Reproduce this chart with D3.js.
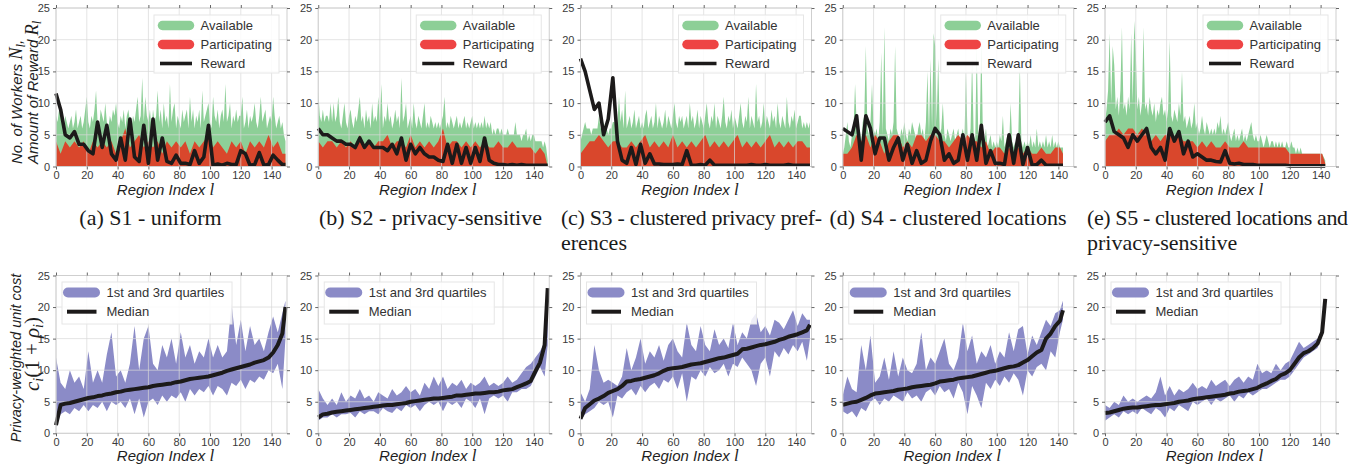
<!DOCTYPE html>
<html>
<head>
<meta charset="utf-8">
<script src="https://cdn.jsdelivr.net/npm/d3@7"></script>
<style>
body{margin:0;background:#fff;}
svg text{font-family:"Liberation Sans",Arial,Helvetica,sans-serif;}
</style>
</head>
<body>
<svg id="chart" width="1367" height="468"></svg>
<script>
var regionIdx150 = [0,3,6,9,12,15,18,21,24,27,30,33,36,39,42,45,48,51,54,57,60,63,66,69,72,75,78,81,84,87,90,93,96,99,102,105,108,111,114,117,120,123,126,129,132,135,138,141,144,147,149];
var regionIdx144 = [0,3,6,9,12,15,18,21,24,27,30,33,36,39,42,45,48,51,54,57,60,63,66,69,72,75,78,81,84,87,90,93,96,99,102,105,108,111,114,117,120,123,126,129,132,135,138,141,143];
//every region, used where the spikes are too narrow for the coarse grid
var regionAll150 = d3.range(0,150);
var regionAll144 = d3.range(0,144);

var xTicks = [0,20,40,60,80,100,120,140];
var yTicks = [0,5,10,15,20,25];

var captions = ["(a) S1 - uniform","(b) S2 - privacy-sensitive","(c) S3 - clustered privacy pref-|erences","(d) S4 - clustered locations","(e) S5 - clustered locations and|privacy-sensitive"];

//top row: available workers (every region), participating workers, reward
var availA = [8,7,9,8,7,6,8,7,6,7, 8,6,7,9,6,7,8,6,7,9, 11,7,6,8,7,9,12,7,6,9, 8,7,10,7,6,8,7,9,8,10,
	7,6,8,7,9,6,8,9,7,6, 8,7,9,11,7,8,14,7,11,8, 7,9,6,9,7,8,12,7,9,6, 10,7,8,6,13,7,9,10,6,8,
	7,6,9,7,8,9,6,11,7,9, 6,8,7,9,6,12,7,8,9,10, 7,6,11,8,7,9,6,8,9,7, 13,7,8,10,6,8,7,9,7,8,
	8,11,6,7,9,6,8,7,8,10, 7,6,8,11,7,8,9,6,7,8, 7,11,8,6,7,8,6,7,5,4];
var partA = [4,2,4,3,4,3,4,2,4,3,4,3,4,2,4,6,3,4,5,3,4,3,4,2,4,3,4,3,4,2,4,3,4,5,3,4,3,2,4,3,4,2,4,3,4,3,5,3,4,2,2];
var rewardA = [11.5,9,5,4.5,5.5,3.5,3.5,2.5,2,7,3,6.5,2,1,4.5,1,7.5,1.5,0.8,6.5,0.5,7.5,1,4.5,0.8,0.5,1.8,0.5,0.5,0.3,2.5,0.5,1.5,6.5,0.2,0.4,0.2,0.5,0.3,0.3,2.5,2,0.2,0.3,2.2,0.2,0.3,1.8,1,0.3,0.3];

var availB = [12,8,7,9,7,8,8,7,10,7, 10,7,8,11,7,6,8,10,7,6, 8,9,7,6,8,7,9,11,7,8, 6,9,7,8,6,10,7,8,7,11,
	7,13,6,8,7,10,7,8,6,7, 9,7,8,6,14,7,8,10,6,7, 8,6,10,7,6,8,7,6,8,10, 6,7,6,8,7,6,7,6,7,6,
	7,8,11,6,7,6,8,7,6,7, 8,6,7,6,7,8,6,7,6,7, 8,6,7,6,7,6,7,6,8,6, 7,6,7,5,6,5,6,6,5,6,
	5,5,5,6,5,5,5,5,7,5, 5,5,4,5,5,6,4,5,4,5, 5,4,4,4,4,4,3,4,3,1];
var partB = [4,3,4,4,3,4,3,4,3,5,3,4,3,4,4,5,3,4,4,3,5,3,4,3,4,3,4,6,3,4,4,3,4,3,4,3,4,3,3,4,3,3,4,3,3,3,3,2,3,2,0];
var rewardB = [6,5,5,4.5,4,4,3.5,3.5,3,4.5,3,4,3,3,3,2.5,3.5,2,4.5,1,3.5,2,3,2,1.5,1.5,1,0.8,3.5,0.5,3.5,0.5,3,0.5,3,0.8,4.5,1,0.5,0.3,0.3,0.2,0.3,0.2,0.3,0.2,0.2,0.2,0.2,0.2,0.2];

var availC = [4,5,6,7,6,6,6,5,6,6, 6,6,8,6,6,7,6,6,5,6, 6,7,7,6,7,11,7,9,6,12, 6,7,8,6,7,9,6,7,8,6,
	7,6,8,9,6,7,8,6,7,10, 6,8,7,6,7,9,6,8,7,6, 8,10,7,6,8,7,8,6,7,8, 6,10,7,8,6,7,9,6,8,7,
	6,8,10,7,6,8,7,10,6,8, 7,6,8,11,7,6,8,7,9,6, 8,7,6,8,10,7,6,8,7,11, 6,8,7,6,13,7,8,6,7,10,
	6,8,7,6,9,7,8,6,10,7, 6,8,7,6,11,7,6,8,7,9, 6,7,8,8,6,7,6,7,6,7];
var partC = [2,3,4,4,5,4,3,4,4,3,3,4,3,4,5,3,4,3,4,3,5,3,4,3,4,3,4,5,3,4,3,4,3,4,5,3,4,3,4,3,4,5,3,4,3,4,3,4,4,3,3];
var rewardC = [17,15,12,9,10,5,7.5,14,4,1,0.5,3,0.3,3.5,0.5,2,0.4,0.4,0.3,0.3,0.3,0.4,0.3,2.5,0.2,0.2,0.3,0.2,1,0.2,0.2,0.2,0.2,0.2,0.2,0.2,0.2,0.3,0.2,0.2,0.3,0.2,0.2,0.2,0.2,0.3,0.2,0.2,0.2,0.2,0.2];

var availD = [2,3,5,7,4,3,5,6,13,7,5,6,4,7,8,19,6,5,7,13,6,5,6,4,7,18,5,22,6,5,
	4,6,5,7,19,6,5,4,6,5,7,5,4,6,5,7,6,5,4,6,
	7,5,6,4,7,15,5,17,6,21,19,7,17,5,6,10,5,4,6,5,
	4,5,6,4,5,6,4,5,6,4,15,5,4,6,17,5,4,19,5,6,
	20,5,4,6,3,4,5,3,4,3,4,3,5,4,8,3,4,5,3,10,
	4,3,4,3,5,16,4,3,4,3,4,3,5,3,4,3,6,3,4,3,
	4,3,5,3,4,3,5,3,4,3,4,3,3,3];
var partD = [2,2,3,5,4,5,3,5,4,2,4,5,5,3,4,3,5,5,4,5,5,4,4,3,4,5,4,5,4,4,3,4,2,3,3,2,3,2,3,2,3,2,2,3,2,2,3,3,2];
var rewardD = [6,5.5,5,8,1,8,6,2,4.5,4.5,1,3,4.5,1,3.5,0.5,2.5,0.5,1,4,6,5,1,2,0.5,1,5,1,5,1,6.5,0.5,2.5,0.5,0.5,0.3,5,0.5,5,0.3,3,0.2,0.3,1,0.2,0.2,0.2,0.2,0.2];

var availE = [7,9,12,21,10,19,16,9,11,8,12,22,9,10,8,11,9,21,10,23,
	18,9,11,8,10,22,9,10,8,11,9,8,10,7,9,8,10,11,8,9,
	7,9,20,8,7,9,8,7,10,8,15,7,8,6,7,8,6,7,10,6,
	7,5,6,8,6,5,7,6,5,6,5,6,5,7,6,8,5,6,5,6,
	7,5,4,5,6,4,5,4,5,6,4,5,4,5,6,7,5,4,5,4,
	4,5,4,3,4,5,4,3,4,4,3,4,3,4,3,4,3,3,4,3,
	3,4,3,3,2,3,2,3,2,2,2,2,2,2,2,2,2,2,2,2,
	2,2,1.5,1];
var partE = [4,5,5,6,5,6,6,5,6,5,4,5,4,5,5,4,5,4,4,4,3,4,3,4,3,3,4,3,3,3,4,3,3,3,3,3,3,3,3,3,2,2,2,2,2,2,2,2,0.5];
var rewardE = [7,8,5.5,5,4.5,3,5,4,5,6,3,2,3,1,6,4,5.5,2,4,1.5,2,1.5,1,1,0.8,0.7,2.5,0.5,0.4,0.5,0.3,0.3,0.3,0.2,0.2,0.2,0.2,0.2,0.2,0.2,0.1,0.1,0.1,0.1,0.1,0.1,0.1,0.1,0.1];

//bottom row: 1st quartile, 3rd quartile, median of privacy-weighted unit cost
var q1A = [1,3,3.5,3,4,3.5,4.5,3.5,4.5,4,5,3.5,5,4.5,5,4,5.5,3,5.5,2.5,5,5.5,4.5,6,5,6,5.5,6.5,5,7,6,7,6.5,7.5,6,7.5,7,6,8,7.5,8.5,7,8.5,8,9,8.5,10,9.5,11,7,15];
var q3A = [12,8,7,10,8,9,7,13,8,10,8,12.5,16,9,10,8,11,17,10,15,17,11,10,14,12,15,11,16,12,14,11,13,12,15,12,14,12,13,20.5,14,18,13,17,14,15,13,16,18.5,16,19,21];
var medA = [1.3,4.5,4.7,4.8,5,5.2,5.4,5.6,5.7,5.9,6,6.2,6.3,6.5,6.6,6.8,6.9,7,7.1,7.2,7.3,7.5,7.6,7.7,7.8,7.9,8.1,8.2,8.4,8.6,8.7,8.8,8.9,9,9.2,9.4,9.6,9.9,10.1,10.3,10.5,10.7,10.9,11.2,11.4,11.6,12,12.8,14,15.8,20];

var q1B = [2,2.5,2.5,3,2.5,3,3,3.2,2.5,3.5,3,3.5,3.5,3,4,3.5,3.2,4,3.5,4.5,4,4.5,3.5,4.5,5,4.5,5,3.5,5,4.5,5,4,5.5,5,4,5.5,3,5.5,6,5.5,6,5,6.5,6.5,7,7,7.5,9,10.5,9,14];
var q3B = [7,5.5,4.5,5.5,4.5,6.5,5,6,5.5,7,5.5,6,5,6.5,6,5.5,7,6,6.5,7.5,6.5,7,6,8,7,9,7.5,9,7,8,7.5,8.5,7,8,7.5,8,9,7.5,8,7.5,8,9,8,8.5,9.5,10.5,11,12,13,14.5,23];
var medB = [2.5,3,3.1,3.3,3.4,3.5,3.6,3.7,3.8,3.9,4,4.1,4.2,4.3,4.4,4.5,4.5,4.6,4.7,4.8,5,5.1,5.2,5.3,5.4,5.5,5.5,5.6,5.7,5.8,6,6,6.1,6.2,6.3,6.3,6.4,6.5,6.5,6.6,6.8,6.9,7,7.3,7.6,7.9,8.3,9.8,11.2,14,23];

var q1C = [2,3,3.5,4,5,4.5,5,2.5,6,5.5,6.5,7,6,7.5,6.5,7.5,8,7,8.5,8,9,7,9.5,5,9,8.5,10,9,10.5,9.5,10,11,9,11,10.5,12,11,10,7.5,11,12,9,13,12,13.5,12.5,14,13,14.5,11.5,15];
var q3C = [6.5,5,7,14,10,8,8.5,8,7.5,9,13.5,10,12,15,11,13,12,14,11.5,14,15,13,12,17.5,14,13,17,14,13,16.5,14,15,13.5,17.5,14,16,15,18,19,16,17,15.5,18,17.5,16.5,18,19.5,17,19,18,18];
var medC = [2.3,4,4.6,5.2,5.5,5.9,6.4,6.7,7,7.5,8.2,8.3,8.5,8.6,8.8,9,9.2,9.5,9.9,10.2,10.3,10.4,10.5,10.7,10.9,11,11.1,11.3,11.5,11.7,11.9,12,12.2,12.4,12.6,13.3,13.4,13.6,13.8,14,14.1,14.3,14.5,14.8,15,15.3,15.5,15.7,16,16.3,17.2];

var q1D = [3.5,3,3.5,2.5,4,3.5,5,5.5,4.5,5.5,5,6,5.5,5,6.5,5.5,6,5,6.5,7,6,7.5,6.5,7,5.5,8,6.5,3,7.5,6,4,8,7,8.5,7.5,9,8,9.5,8.5,6,10,9,10.5,11,10,13,12,16,18];
var q3D = [6,9,7,6.5,14,10,15.5,8,9,12,8.5,13,9,12,10,9.5,11,16,10,12,11,13,15,11,10,12,17.5,13,15.5,11,13,12,14,11,13,12,16,13,16.5,17,12.5,15.5,14,16,18,17,19,19.5,21];
var medD = [4.5,4.7,4.9,5,5.3,5.6,6,6.3,6.4,6.5,6.6,6.7,6.9,7,7.1,7.3,7.4,7.5,7.6,7.7,7.9,8.2,8.3,8.4,8.5,8.7,8.8,8.9,9,9.2,9.4,9.6,9.8,9.9,10.1,10.3,10.5,10.6,10.8,11.2,11.6,12.2,12.8,13.2,15,15.8,17,17.8,19.5];

var q1E = [2,2.5,3,2.5,3.5,3,3.5,3,4,3.5,3,4,3.5,2.5,4,3.5,4.5,4,3.5,5,4.5,5,5.5,4.5,5.5,5,5.5,6,5,6,5.5,6.5,6,6.5,7,7,7.5,8,8.5,8.5,9,10,11,12,12.5,13,13.5,15.5,21];
var q3E = [4.5,4,5,4.5,6,5,5.5,5,5.5,6,5.5,6.5,9,6,7.5,6,7,6.5,7,8,7,7.5,7,8.5,7.5,8,8.5,7.5,8.5,9,8,9,8.5,11,9.5,10,9.5,11,10,11,11.5,13,14.5,13.5,14,14.5,15,16.5,21.5];
var medE = [3.2,3.3,3.5,3.7,3.9,4,4.1,4.1,4.2,4.3,4.4,4.5,4.5,4.6,4.7,4.8,5,5.1,5.2,5.4,5.5,5.6,5.7,5.8,5.9,6,6.1,6.3,6.4,6.6,6.7,6.8,7,7.2,7.6,7.9,8.3,8.6,9.2,9.5,10,11,12,12.7,13,13.5,14.2,16,21.3];

var topPanels = [
	{availIdx:regionAll150, avail:availA, idx:regionIdx150, part:partA, reward:rewardA},
	{availIdx:regionAll150, avail:availB, idx:regionIdx150, part:partB, reward:rewardB},
	{availIdx:regionAll150, avail:availC, idx:regionIdx150, part:partC, reward:rewardC},
	{availIdx:regionAll144, avail:availD, idx:regionIdx144, part:partD, reward:rewardD},
	{availIdx:regionAll144, avail:availE, idx:regionIdx144, part:partE, reward:rewardE}
];
var botPanels = [
	{idx:regionIdx150, q1:q1A, q3:q3A, med:medA},
	{idx:regionIdx150, q1:q1B, q3:q3B, med:medB},
	{idx:regionIdx150, q1:q1C, q3:q3C, med:medC},
	{idx:regionIdx144, q1:q1D, q3:q3D, med:medD},
	{idx:regionIdx144, q1:q1E, q3:q3E, med:medE}
];

var GREEN = "#8dcf97", RED = "#d9472c", RED_KEY = "#ee4444", PURPLE = "#8b8bc7", INK = "#1c1a1a";

var svg = d3.select("#chart");
var W = 231;
var lefts = [56, 318.25, 580.5, 842.75, 1105];
var rows = [{top:8, bottom:166.5}, {top:275.5, bottom:433.3}];
var x = d3.scaleLinear().domain([0,150]).range([0,W]);

function frame(g, y, H, layer){
	if(layer=="grid"){
		g.append("g").selectAll("line").data(xTicks).enter().append("line")
			.attr("x1",function(d){return x(d)}).attr("x2",function(d){return x(d)})
			.attr("y1",0).attr("y2",H)
			.attr("stroke","#d8d8d8").attr("stroke-opacity",0.7).attr("stroke-width",1);
		g.append("g").selectAll("line").data(yTicks).enter().append("line")
			.attr("x1",0).attr("x2",W)
			.attr("y1",function(d){return y(d)}).attr("y2",function(d){return y(d)})
			.attr("stroke","#d8d8d8").attr("stroke-opacity",0.7).attr("stroke-width",1);
		return;
	}
	g.append("rect").attr("width",W).attr("height",H)
		.attr("fill","none").attr("stroke","#cfcfcf").attr("stroke-width",1);

	//little outward ticks on all four sides
	var yl = g.append("g").call(d3.axisLeft(y).tickValues(yTicks).tickSize(3).tickPadding(3).tickSizeOuter(0));
	var xl = g.append("g").attr("transform","translate(0,"+H+")")
		.call(d3.axisBottom(x).tickValues(xTicks).tickSize(3).tickPadding(2).tickSizeOuter(0));
	var yr = g.append("g").attr("transform","translate("+W+",0)")
		.call(d3.axisRight(y).tickValues(yTicks).tickSize(3).tickFormat("").tickSizeOuter(0));
	var xt = g.append("g").call(d3.axisTop(x).tickValues(xTicks).tickSize(3).tickFormat("").tickSizeOuter(0));
	[yl,xl,yr,xt].forEach(function(a){
		a.select(".domain").remove();
		a.selectAll(".tick line").attr("stroke","#666");
		a.selectAll("text").attr("fill","#3a3a3a").style("font-size","11px")
			.style("font-family","'Liberation Sans',Arial,sans-serif");
	});

	var lab = g.append("text").attr("x",W/2-6).attr("y",H+28)
		.attr("text-anchor","middle").attr("fill","#1e1e1e")
		.style("font-size","15px").style("font-style","italic");
	lab.append("tspan").text("Region Index ");
	lab.append("tspan").text("l").style("font-family","'Liberation Serif',serif").style("font-size","17px");
}

//top row
topPanels.forEach(function(P,i){
	var H = rows[0].bottom - rows[0].top;
	var y = d3.scaleLinear().domain([0,25]).range([H,0]);
	var g = svg.append("g").attr("transform","translate("+lefts[i]+","+rows[0].top+")");
	var ptsA = P.availIdx.map(function(r,j){return {r:r, v:P.avail[j]}})
		.filter(function(d){return d.v!=null});
	var pts = P.idx.map(function(r,j){return {r:r, p:P.part[j], w:P.reward[j]}})
		.filter(function(d){return d.p!=null && d.w!=null});

	g.append("path").datum(ptsA).attr("fill",GREEN)
		.attr("d", d3.area().x(function(d){return x(d.r)}).y0(H).y1(function(d){return y(d.v)}));
	g.append("path").datum(pts).attr("fill",RED)
		.attr("d", d3.area().x(function(d){return x(d.r)}).y0(H).y1(function(d){return y(d.p)}));
	frame(g, y, H, "grid");
	g.append("path").datum(pts).attr("fill","none").attr("stroke",INK).attr("stroke-width",3.6)
		.attr("stroke-linejoin","round")
		.attr("d", d3.line().x(function(d){return x(d.r)}).y(function(d){return y(d.w)}));
	frame(g, y, H, "axes");

	//legend
	var lg = g.append("g").attr("transform","translate(98,7)");
	lg.append("rect").attr("width",125).attr("height",58).attr("fill","#fff").attr("fill-opacity",0.85)
		.attr("stroke","#e6e6e6");
	var keys = [{t:"Available", c:GREEN, w:9.5}, {t:"Participating", c:RED_KEY, w:9.5}, {t:"Reward", c:INK, w:3.6}];
	keys.forEach(function(k,j){
		var ky = 10.5 + j*19;
		lg.append("line").attr("x1", k.w>5 ? 8.5 : 6).attr("x2", k.w>5 ? 35.5 : 38)
			.attr("y1",ky).attr("y2",ky).attr("stroke",k.c).attr("stroke-width",k.w)
			.attr("stroke-linecap", k.w>5 ? "round" : "butt");
		lg.append("text").attr("x",46.5).attr("y",ky+4.6).text(k.t)
			.attr("fill","#333").style("font-size","13px");
	});
});

//bottom row
botPanels.forEach(function(P,i){
	var H = rows[1].bottom - rows[1].top;
	var y = d3.scaleLinear().domain([0,25]).range([H,0]);
	var g = svg.append("g").attr("transform","translate("+lefts[i]+","+rows[1].top+")");
	var pts = P.idx.map(function(r,j){return {r:r, lo:P.q1[j], hi:P.q3[j], m:P.med[j]}})
		.filter(function(d){return d.lo!=null && d.hi!=null && d.m!=null});

	g.append("path").datum(pts).attr("fill",PURPLE)
		.attr("d", d3.area().x(function(d){return x(d.r)}).y0(function(d){return y(d.lo)}).y1(function(d){return y(d.hi)}));
	frame(g, y, H, "grid");
	g.append("path").datum(pts).attr("fill","none").attr("stroke",INK).attr("stroke-width",4)
		.attr("stroke-linejoin","round")
		.attr("d", d3.line().x(function(d){return x(d.r)}).y(function(d){return y(d.m)}));
	frame(g, y, H, "axes");

	var lg = g.append("g").attr("transform","translate(6,6.5)");
	lg.append("rect").attr("width",170).attr("height",42).attr("fill","#fff").attr("fill-opacity",0.85)
		.attr("stroke","#e6e6e6");
	lg.append("line").attr("x1",6).attr("x2",33).attr("y1",10.5).attr("y2",10.5)
		.attr("stroke",PURPLE).attr("stroke-width",10).attr("stroke-linecap","round");
	lg.append("line").attr("x1",5).attr("x2",34.5).attr("y1",29.7).attr("y2",29.7)
		.attr("stroke",INK).attr("stroke-width",4);
	lg.append("text").attr("x",44.5).attr("y",15).text("1st and 3rd quartiles").attr("fill","#333").style("font-size","13px");
	lg.append("text").attr("x",44.5).attr("y",34.3).text("Median").attr("fill","#333").style("font-size","13px");
});

//y axis titles
var t1 = svg.append("text").attr("transform","translate(22,164) rotate(-90)").attr("text-anchor","start")
	.attr("fill","#1e1e1e").style("font-size","15px").style("font-style","italic");
t1.append("tspan").text("No. of Workers ");
t1.append("tspan").text("N").style("font-family","'Liberation Serif',serif").style("font-size","18.5px");
t1.append("tspan").text("l").attr("dy",3).style("font-family","'Liberation Serif',serif").style("font-size","12.5px");
t1.append("tspan").text(",").attr("dy",-3);
var t2 = svg.append("text").attr("transform","translate(38,164) rotate(-90)").attr("text-anchor","start")
	.attr("fill","#1e1e1e").style("font-size","15px").style("font-style","italic");
t2.append("tspan").text("Amount of Reward ");
t2.append("tspan").text("R").style("font-family","'Liberation Serif',serif").style("font-size","18.5px");
t2.append("tspan").text("l").attr("dy",3).style("font-family","'Liberation Serif',serif").style("font-size","12.5px");

svg.append("text").attr("transform","translate(21,358) rotate(-90)").attr("text-anchor","middle")
	.attr("fill","#1e1e1e").style("font-size","14.5px").style("font-style","italic").text("Privacy-weighted unit cost");
var t4 = svg.append("text").attr("transform","translate(39,354) rotate(-90)").attr("text-anchor","middle")
	.attr("fill","#1e1e1e").style("font-size","21px").style("font-family","'Liberation Serif',serif");
t4.append("tspan").text("c").style("font-style","italic");
t4.append("tspan").text("i").attr("dy",4).style("font-size","14px").style("font-style","italic");
t4.append("tspan").text("(1 + ").attr("dy",-4);
t4.append("tspan").text("ρ").style("font-style","italic");
t4.append("tspan").text("i").attr("dy",4).style("font-size","14px").style("font-style","italic");
t4.append("tspan").text(")").attr("dy",-4);

//captions under the top row
var capPos = [{x:150.5, a:"middle"}, {x:430.5, a:"middle"}, {x:561, a:"start", w:261}, {x:948, a:"middle"}, {x:1087, a:"start", w:261}];
captions.forEach(function(c,i){
	var lines = c.split("|");
	lines.forEach(function(s,j){
		var t = svg.append("text").attr("x",capPos[i].x).attr("y",225+j*25)
			.attr("text-anchor",capPos[i].a).attr("fill","#1a1a1a")
			.style("font-family","'Liberation Serif','Times New Roman',serif").style("font-size","22px")
			.text(s);
		if(lines.length>1 && j==0){
			t.attr("textLength",capPos[i].w).attr("lengthAdjust","spacing");
		}
	});
});
</script>
</body>
</html>
